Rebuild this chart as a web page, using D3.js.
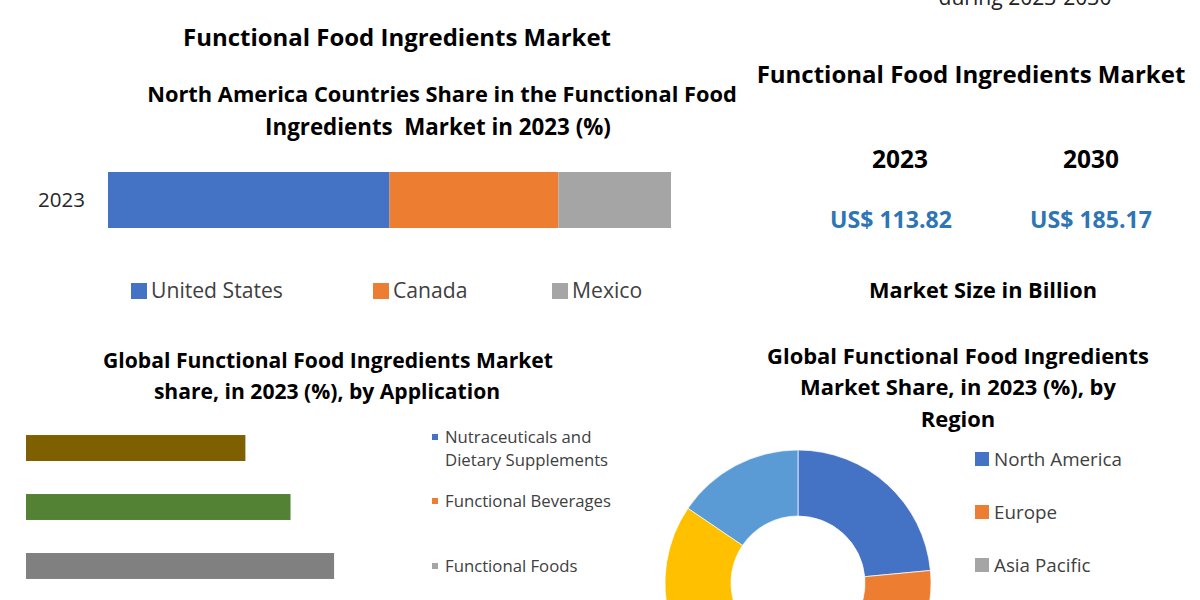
<!DOCTYPE html>
<html>
<head>
<meta charset="utf-8">
<script src="https://cdnjs.cloudflare.com/ajax/libs/d3/7.8.5/d3.min.js"></script>
<style>
  html, body { margin: 0; padding: 0; background: #fff; overflow: hidden; }
  svg { display: block; font-family: "Open Sans", sans-serif; }
</style>
</head>
<body>
<div id="chart"></div>
<script>
// data
const countries = ['United States', 'Canada', 'Mexico'];
const countryShare = [50, 30, 20];
const countryYear = '2023';

const applications = ['Nutraceuticals and Dietary Supplements', 'Functional Beverages', 'Functional Foods'];
const applicationShare = [27.7, 33.4, 38.9];

const regions = ['North America', 'Europe', 'Asia Pacific', 'Middle East and Africa', 'South America'];
const regionShare = [23.5, 21, 26, 14, 15.5];

const sizeYears = ['2023', '2030'];
const sizeValues = [113.82, 185.17];

const w = 1200;
const h = 600;

const svg = d3.select('#chart')
              .append('svg')
              .attr('width', w)
              .attr('height', h);

svg.append('rect').attr('width', w).attr('height', h).attr('fill', '#fff');

// scale a text's font-size so it fills a given width
function fit(sel, width) {
  const len = sel.node().getComputedTextLength();
  const fs = parseFloat(sel.attr('font-size'));
  const size = fs * width / len;
  sel.attr('font-size', size);
  return size;
}

function label(x, y, txt, opts) {
  opts = opts || {};
  const t = svg.append('text')
     .attr('x', x)
     .attr('y', y)
     .attr('text-anchor', opts.anchor || 'middle')
     .attr('font-size', opts.size || 20)
     .attr('font-weight', opts.bold ? 700 : 400)
     .attr('fill', opts.color || '#000')
     .text(txt);
  return t;
}

// titles (bold, fitted to the reference widths)
const tDuring = label(1025, 5, 'during 2023-2030', {size: 19, color: '#222'});
fit(tDuring, 173);

const tMain = label(397, 46, 'Functional Food Ingredients Market', {bold: true, size: 22});
fit(tMain, 428);

const naT1 = label(442, 102, 'North America Countries Share in the Functional Food', {bold: true, size: 20});
fit(naT1, 590);
const naT2 = label(438, 135, 'Ingredients  Market in 2023 (%)', {bold: true, size: 20}).style('white-space', 'pre');
fit(naT2, 346);

const apT1 = label(328, 368, 'Global Functional Food Ingredients Market', {bold: true, size: 20});
const apSize = fit(apT1, 450);
label(327, 399, 'share, in 2023 (%), by Application', {bold: true, size: apSize});

const rtT = label(971, 83, 'Functional Food Ingredients Market', {bold: true, size: 22});
fit(rtT, 429);

const rgT1 = label(958, 364, 'Global Functional Food Ingredients', {bold: true, size: 20});
const rgSize = fit(rgT1, 382);
label(958, 395, 'Market Share, in 2023 (%), by', {bold: true, size: rgSize});
label(958, 427, 'Region', {bold: true, size: rgSize});

// market size block
const sizeX = d3.scalePoint().domain(sizeYears).range([900, 1091]);
let yrSize;
sizeYears.forEach((yr, i) => {
  const t = label(sizeX(yr), 168, yr, {bold: true, size: 22});
  if (i === 0) yrSize = fit(t, 56); else t.attr('font-size', yrSize);
});
let valSize;
sizeValues.forEach((v, i) => {
  const t = label(sizeX(sizeYears[i]) - (i === 0 ? 9 : 0), 228, 'US$ ' + v.toFixed(2), {bold: true, size: 22, color: '#2E75B6'});
  if (i === 0) valSize = fit(t, 122); else t.attr('font-size', valSize);
});
const msT = label(983, 298, 'Market Size in Billion', {bold: true, size: 20});
fit(msT, 228);

// stacked bar: North America countries
const countryColors = ['#4472C4', '#ED7D31', '#A5A5A5'];
const xStack = d3.scaleLinear().domain([0, d3.sum(countryShare)]).range([108, 671]);
const yStack = d3.scaleBand().domain([countryYear]).range([172, 228]);
const starts = countryShare.map((d, i) => d3.sum(countryShare.slice(0, i)));

svg.selectAll('.stack')
   .data(countryShare)
   .enter()
   .append('rect')
   .attr('class', 'stack')
   .attr('x', (d, i) => xStack(starts[i]))
   .attr('width', (d, i) => xStack(starts[i] + d) - xStack(starts[i]))
   .attr('y', yStack(countryYear))
   .attr('height', yStack.bandwidth())
   .attr('fill', (d, i) => countryColors[i]);

const yLab = label(85, yStack(countryYear) + yStack.bandwidth() / 2 + 7, countryYear, {anchor: 'end', size: 18, color: '#262626'});
fit(yLab, 47);

// country legend
const countryLegX = [131, 373, 552];
let legSize;
countries.forEach((c, i) => {
  svg.append('rect')
     .attr('x', countryLegX[i]).attr('y', 283)
     .attr('width', 16).attr('height', 16)
     .attr('fill', countryColors[i]);
  const t = label(countryLegX[i] + 20, 298, c, {anchor: 'start', size: 18, color: '#404040'});
  if (i === 0) legSize = fit(t, 132); else t.attr('font-size', legSize);
});

// application bars
const appColors = ['#7F6000', '#548235', '#808080'];
const appLegColors = ['#4472C4', '#ED7D31', '#A5A5A5'];
const xApp = d3.scaleLinear().domain([0, 100]).range([26, 818]);
const yApp = d3.scaleBand().domain(applications).range([402, 612]).padding(0.56);

svg.selectAll('.app')
   .data(applications)
   .enter()
   .append('rect')
   .attr('class', 'app')
   .attr('x', xApp(0))
   .attr('y', d => yApp(d))
   .attr('width', (d, i) => xApp(applicationShare[i]) - xApp(0))
   .attr('height', yApp.bandwidth())
   .attr('fill', (d, i) => appColors[i]);

// application legend (wrapped like the original)
const appLegLines = [['Nutraceuticals and', 'Dietary Supplements'], ['Functional Beverages'], ['Functional Foods']];
const appLegY = [443, 507, 572];
const appLegTexts = [];
let appLegSize;
appLegLines.forEach((lines, i) => {
  svg.append('rect')
     .attr('x', 432).attr('y', appLegY[i] - 9)
     .attr('width', 6).attr('height', 6)
     .attr('fill', appLegColors[i]);
  lines.forEach((ln, j) => {
    const t = label(445, appLegY[i] + j * 23, ln, {anchor: 'start', size: 15, color: '#404040'});
    appLegTexts.push(t);
    if (i === 1) appLegSize = fit(t, 166);
  });
});
appLegTexts.forEach(t => t.attr('font-size', appLegSize));

// region donut
const regionColors = ['#4472C4', '#ED7D31', '#A5A5A5', '#FFC000', '#5B9BD5'];
const pie = d3.pie().sort(null).value(d => d);
const arc = d3.arc().innerRadius(67).outerRadius(133);

svg.append('g')
   .attr('transform', 'translate(798, 583)')
   .selectAll('path')
   .data(pie(regionShare))
   .enter()
   .append('path')
   .attr('d', arc)
   .attr('fill', (d, i) => regionColors[i])
   .attr('stroke', '#fff')
   .attr('stroke-width', 0.7);

// region legend (entries below the page edge are not drawn, as in the original crop)
const yRegLeg = d3.scalePoint().domain(regions).range([459, 671]);
let regLegSize;
regions.forEach((r, i) => {
  if (yRegLeg(r) + 7 > h) return;
  svg.append('rect')
     .attr('x', 975).attr('y', yRegLeg(r) - 7)
     .attr('width', 14).attr('height', 14)
     .attr('fill', regionColors[i]);
  const t = label(994, yRegLeg(r) + 7, r, {anchor: 'start', size: 18, color: '#404040'});
  if (i === 0) regLegSize = fit(t, 128); else t.attr('font-size', regLegSize);
});
</script>
</body>
</html>
